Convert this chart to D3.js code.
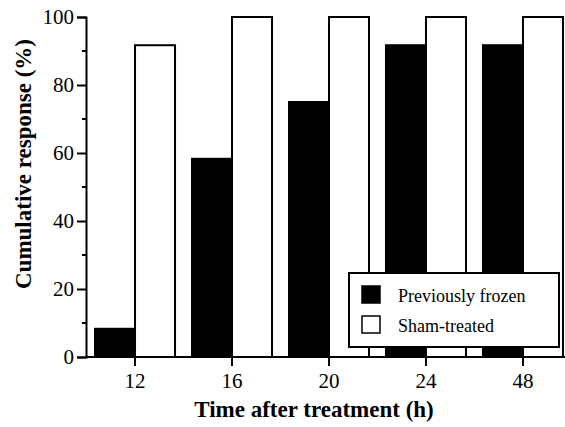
<html>
	<head>
		<meta charset="utf-8">
		<title>Cumulative response</title>
		<script type="text/javascript" src="https://cdn.jsdelivr.net/npm/d3@7"></script>
	</head>
	<body style="margin:0">
		<script type="text/javascript">

			// data
			var times = ["12", "16", "20", "24", "48"];
			var frozen = [8.3, 58.3, 75, 91.7, 91.7];
			var sham = [91.7, 100, 100, 100, 100];
			var seriesNames = ["Previously frozen", "Sham-treated"];
			var yTicks = [0, 20, 40, 60, 80, 100];

			var w = 565;
			var h = 427;
			var fontFam = "'Liberation Serif', 'Times New Roman', Tinos, monospace";

			var svg = d3.select("body")
						.append("svg")
						.attr("width", w)
						.attr("height", h);

			var xScale = d3.scaleBand()
							.domain(times)
							.range([86, 572])
							.paddingInner(0.175)
							.paddingOuter(0.093);

			var subScale = d3.scaleBand()
							.domain([0, 1])
							.range([0, xScale.bandwidth()]);

			var yScale = d3.scaleLinear()
							.domain([0, 100])
							.range([357, 17]);

			var groups = svg.selectAll("g.group")
				.data(times)
				.enter()
				.append("g")
				.attr("class", "group")
				.attr("transform", function(d) { return "translate(" + xScale(d) + ",0)"; });

			// black bars
			groups.append("rect")
				.attr("x", subScale(0))
				.attr("y", function(d, i) { return yScale(frozen[i]); })
				.attr("width", subScale.bandwidth())
				.attr("height", function(d, i) { return yScale(0) - yScale(frozen[i]); })
				.attr("fill", "#000")
				.attr("stroke", "#000")
				.attr("stroke-width", 2);

			// white bars
			groups.append("rect")
				.attr("x", subScale(1))
				.attr("y", function(d, i) { return yScale(sham[i]); })
				.attr("width", subScale.bandwidth())
				.attr("height", function(d, i) { return yScale(0) - yScale(sham[i]); })
				.attr("fill", "#fff")
				.attr("stroke", "#000")
				.attr("stroke-width", 2);

			// y axis
			var yAxis = d3.axisLeft(yScale)
							.tickValues(yTicks)
							.tickSize(9)
							.tickPadding(3)
							.tickFormat(d3.format("d"));
			var yg = svg.append("g")
				.attr("transform", "translate(86,0)")
				.call(yAxis)
				.attr("font-family", fontFam)
				.attr("font-size", 21);
			yg.select(".domain").attr("stroke-width", 2);
			yg.selectAll(".tick line").attr("stroke-width", 2);
			yg.selectAll(".tick text")
				.style("font-family", fontFam)
				.attr("fill", "#000");

			// minor ticks
			svg.append("g")
				.selectAll("line")
				.data(d3.range(10, 100, 20))
				.enter()
				.append("line")
				.attr("x1", 82)
				.attr("x2", 86)
				.attr("y1", function(d) { return yScale(d); })
				.attr("y2", function(d) { return yScale(d); })
				.attr("stroke", "#000")
				.attr("stroke-width", 2);

			// x axis
			var xAxis = d3.axisBottom(xScale)
							.tickSize(9)
							.tickSizeOuter(0)
							.tickPadding(7);
			var xg = svg.append("g")
				.attr("transform", "translate(0,357)")
				.call(xAxis)
				.attr("font-family", fontFam)
				.attr("font-size", 21);
			xg.select(".domain")
				.attr("d", "M86,0H565")
				.attr("stroke-width", 2);
			xg.selectAll(".tick line").attr("stroke-width", 2);
			xg.selectAll(".tick text")
				.style("font-family", fontFam)
				.attr("fill", "#000");

			// axis titles
			svg.append("text")
				.attr("x", 314)
				.attr("y", 417)
				.attr("text-anchor", "middle")
				.style("font-family", fontFam)
				.style("font-weight", "bold")
				.style("font-size", "23px")
				.text("Time after treatment (h)");

			svg.append("text")
				.attr("transform", "translate(31,164) rotate(-90)")
				.attr("text-anchor", "middle")
				.style("font-family", fontFam)
				.style("font-weight", "bold")
				.style("font-size", "23px")
				.text("Cumulative response (%)");

			// legend
			var legend = svg.append("g");
			legend.append("rect")
				.attr("x", 349)
				.attr("y", 273)
				.attr("width", 210)
				.attr("height", 74)
				.attr("fill", "#fff")
				.attr("stroke", "#000")
				.attr("stroke-width", 2);

			var items = legend.selectAll("g.item")
				.data(seriesNames)
				.enter()
				.append("g")
				.attr("class", "item")
				.attr("transform", function(d, i) { return "translate(362," + (286 + i * 30) + ")"; });

			items.append("rect")
				.attr("width", 18)
				.attr("height", 17)
				.attr("fill", function(d, i) { return i === 0 ? "#000" : "#fff"; })
				.attr("stroke", "#000")
				.attr("stroke-width", 1.5);

			items.append("text")
				.attr("x", 36)
				.attr("y", 16)
				.style("font-family", fontFam)
				.style("font-size", "18px")
				.text(function(d) { return d; });

		</script>
	</body>
</html>
